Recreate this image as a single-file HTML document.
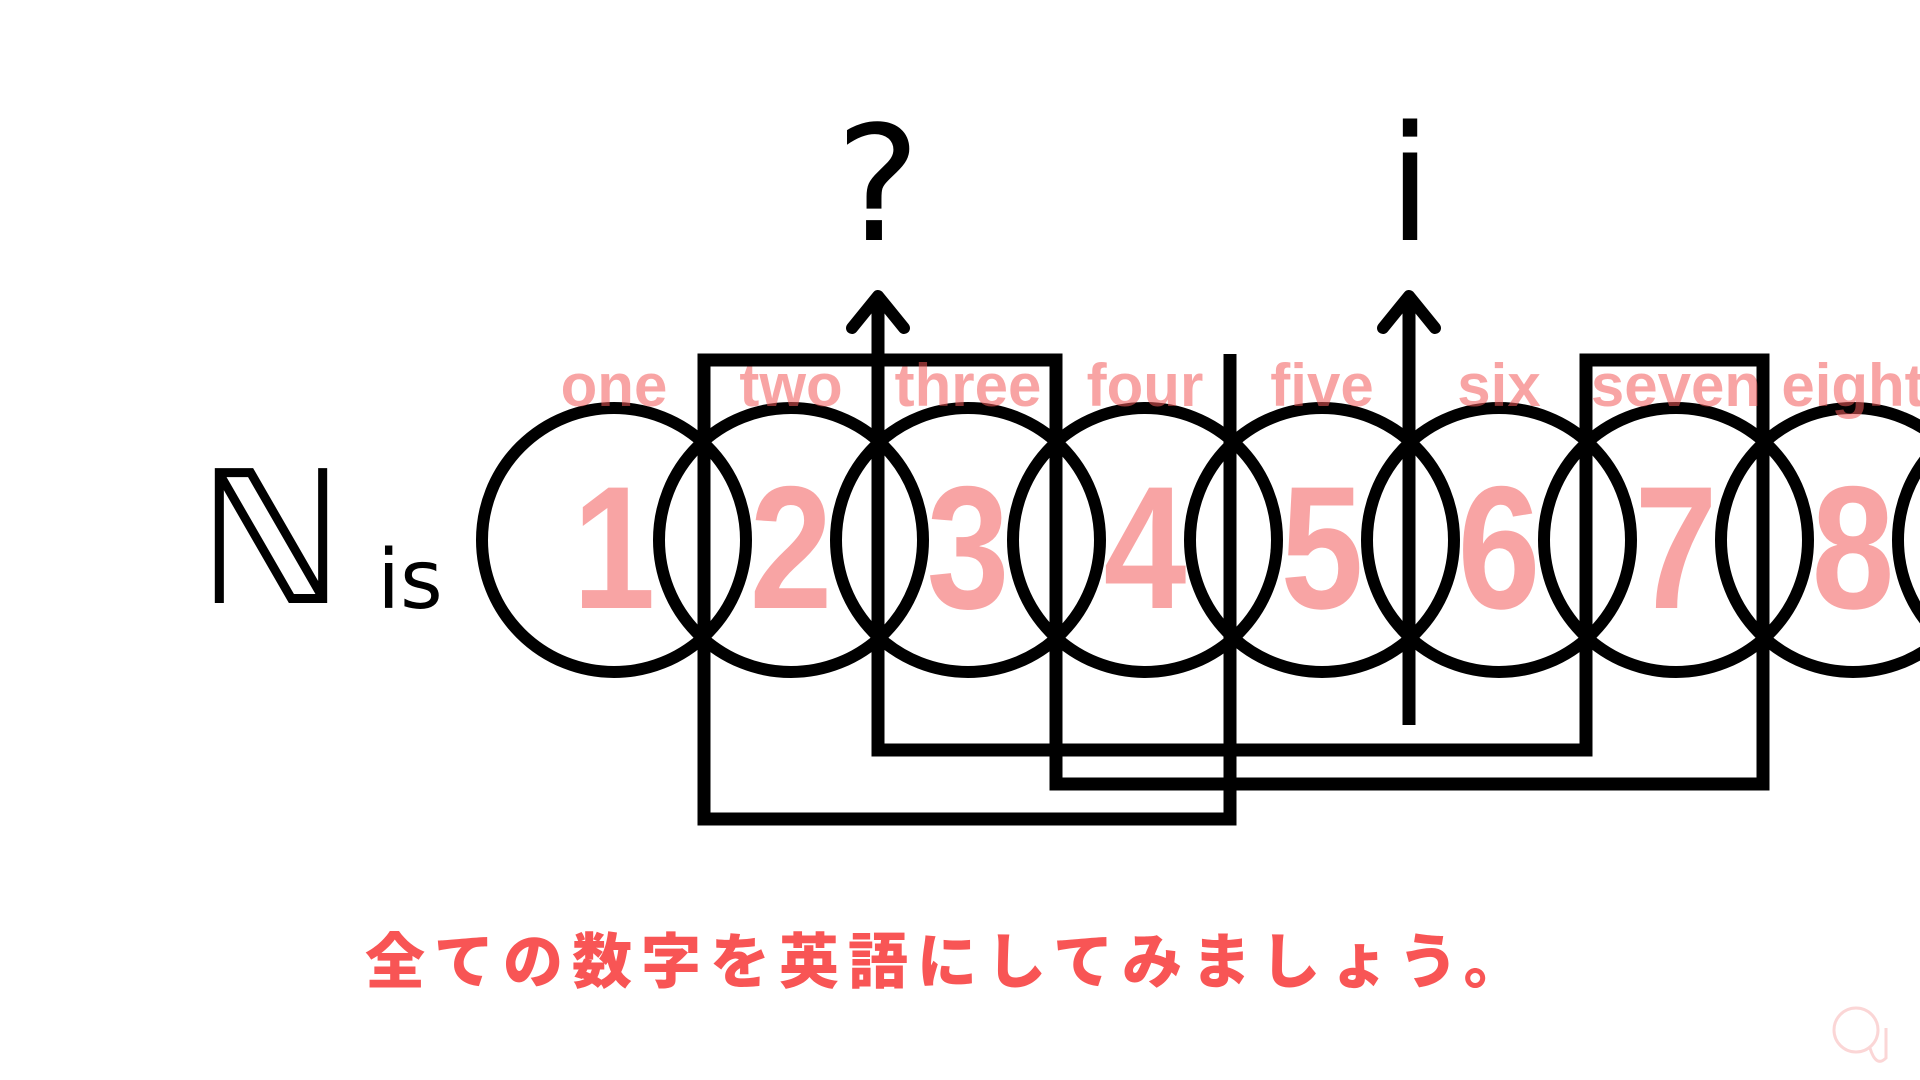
<!DOCTYPE html>
<html><head><meta charset="utf-8"><style>
html,body{margin:0;padding:0;background:#fff;}
svg{display:block;}
</style></head><body>
<svg width="1920" height="1080" viewBox="0 0 1920 1080" xmlns="http://www.w3.org/2000/svg">
<rect width="1920" height="1080" fill="#fff"/>
<text x="878" y="240" text-anchor="middle" font-family="DejaVu Sans, Liberation Sans, sans-serif" font-size="160" fill="#000">?</text>
<text x="1410" y="240" text-anchor="middle" font-family="DejaVu Sans, Liberation Sans, sans-serif" font-size="160" fill="#000">i</text>
<text x="271" y="603" text-anchor="middle" font-family="DejaVu Sans, sans-serif" font-size="185" fill="#000">ℕ</text>
<text x="410" y="608" text-anchor="middle" font-family="DejaVu Sans, Liberation Sans, sans-serif" font-size="82" fill="#000">is</text>
<g fill="none" stroke="#000" stroke-width="12">
<circle cx="614" cy="540" r="132"/>
<circle cx="791" cy="540" r="132"/>
<circle cx="968" cy="540" r="132"/>
<circle cx="1145" cy="540" r="132"/>
<circle cx="1322" cy="540" r="132"/>
<circle cx="1499" cy="540" r="132"/>
<circle cx="1676" cy="540" r="132"/>
<circle cx="1853" cy="540" r="132"/>
<circle cx="2030" cy="540" r="132"/>
</g>
<g fill="none" stroke="#000" stroke-width="13" stroke-linejoin="miter">
<polyline points="1230,354 1230,819 704,819 704,360 1056,360 1056,784 1763,784 1763,360 1586,360 1586,750 878,750 878,298"/>
<line x1="1409" y1="725" x2="1409" y2="298"/>
</g>
<g fill="none" stroke="#000" stroke-width="12" stroke-linecap="round" stroke-linejoin="round">
<polyline points="852,328 878,296 904,328"/>
<polyline points="1383,328 1409,296 1435,328"/>
</g>
<g font-family="Liberation Sans, sans-serif" font-weight="bold" fill="#f25a5a" fill-opacity="0.55" text-anchor="middle">
<g font-size="60">
<text x="614" y="406">one</text>
<text x="791" y="406">two</text>
<text x="968" y="406">three</text>
<text x="1145" y="406">four</text>
<text x="1322" y="406">five</text>
<text x="1499" y="406">six</text>
<text x="1676" y="406">seven</text>
<text x="1853" y="406">eight</text>
</g>
<g font-size="175">
<text transform="translate(614,608) scale(0.85,1)">1</text>
<text transform="translate(791,608) scale(0.85,1)">2</text>
<text transform="translate(968,608) scale(0.85,1)">3</text>
<text transform="translate(1145,608) scale(0.85,1)">4</text>
<text transform="translate(1322,608) scale(0.85,1)">5</text>
<text transform="translate(1499,608) scale(0.85,1)">6</text>
<text transform="translate(1676,608) scale(0.85,1)">7</text>
<text transform="translate(1853,608) scale(0.85,1)">8</text>
</g>
</g>
<text x="365" y="983" font-family="Liberation Sans, Noto Sans CJK JP, sans-serif" font-weight="900" font-size="60" letter-spacing="9" fill="#f85555">全ての数字を英語にしてみましょう。</text>
<g fill="none" stroke="#fbd6d6" stroke-width="3">
<circle cx="1856" cy="1030" r="22"/>
<path d="M1870 1048 q6 20 16 10 l0 -30"/>
</g>
</svg>
</body></html>
